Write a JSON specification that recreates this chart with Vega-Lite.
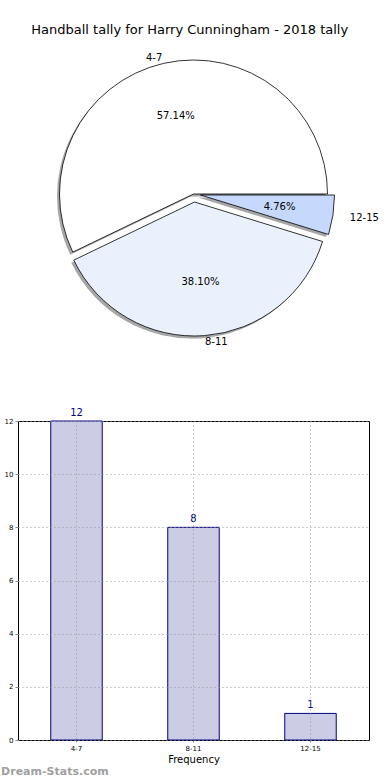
{
  "$schema": "https://vega.github.io/schema/vega-lite/v6.json",
  "padding": {"left": 0, "top": 23, "right": 20, "bottom": 0},
  "bounds": "flush",
  "spacing": 77,
  "config": {"font": "DejaVu Sans", "view": {"stroke": null}},
  "title": {"text": "Handball tally for Harry Cunningham - 2018 tally", "fontSize": 13, "fontWeight": "normal", "color": "black", "anchor": "middle", "offset": 6},
  "datasets": {
    "tally": [
      {"range": "4-7", "count": 12, "share": 0.5714},
      {"range": "8-11", "count": 8, "share": 0.381},
      {"range": "12-15", "count": 1, "share": 0.0476}
    ]
  },
  "vconcat": [
    {
      "width": 351,
      "height": 300,
      "data": {"name": "tally"},
      "encoding": {
        "theta": {"field": "count", "type": "quantitative", "stack": true, "scale": {"range": [1.5708, 7.854]}},
        "order": {"field": "count", "sort": "ascending"}
      },
      "layer": [
        {"mark": {"type": "arc", "radius": 134, "fill": "#4d4d4d", "xOffset": -2.5, "yOffset": 2.5},
         "encoding": {"opacity": {"condition": {"test": "datum.range === '4-7'", "value": 0.5}, "value": 0}}},
        {"mark": {"type": "arc", "radius": 134, "stroke": "black", "strokeWidth": 0.8},
         "encoding": {
           "color": {"field": "range", "type": "nominal", "scale": {"domain": ["4-7", "8-11", "12-15"], "range": ["#ffffff", "#eaf1fd", "#c6d9fd"]}, "legend": null},
           "opacity": {"condition": {"test": "datum.range === '4-7'", "value": 1}, "value": 0}}},
        {"mark": {"type": "arc", "radius": 134, "fill": "#4d4d4d", "xOffset": -1.5, "yOffset": 10.5},
         "encoding": {"opacity": {"condition": {"test": "datum.range === '8-11'", "value": 0.5}, "value": 0}}},
        {"mark": {"type": "arc", "radius": 134, "stroke": "black", "strokeWidth": 0.8, "xOffset": 1, "yOffset": 8},
         "encoding": {
           "color": {"field": "range", "type": "nominal", "legend": null},
           "opacity": {"condition": {"test": "datum.range === '8-11'", "value": 1}, "value": 0}}},
        {"mark": {"type": "arc", "radius": 134, "fill": "#4d4d4d", "xOffset": 4.5, "yOffset": 3.5},
         "encoding": {"opacity": {"condition": {"test": "datum.range === '12-15'", "value": 0.5}, "value": 0}}},
        {"mark": {"type": "arc", "radius": 134, "stroke": "black", "strokeWidth": 0.8, "xOffset": 7, "yOffset": 1},
         "encoding": {
           "color": {"field": "range", "type": "nominal", "legend": null},
           "opacity": {"condition": {"test": "datum.range === '12-15'", "value": 1}, "value": 0}}},
        {"mark": {"type": "text", "radius": 80, "fontSize": 10, "color": "black"},
         "encoding": {"text": {"field": "share", "format": ".2%"},
           "opacity": {"condition": {"test": "datum.range === '4-7'", "value": 1}, "value": 0}}},
        {"mark": {"type": "text", "radius": 80, "fontSize": 10, "color": "black", "xOffset": 1, "yOffset": 8},
         "encoding": {"text": {"field": "share", "format": ".2%"},
           "opacity": {"condition": {"test": "datum.range === '8-11'", "value": 1}, "value": 0}}},
        {"mark": {"type": "text", "radius": 80, "fontSize": 10, "color": "black", "xOffset": 7, "yOffset": 1},
         "encoding": {"text": {"field": "share", "format": ".2%"},
           "opacity": {"condition": {"test": "datum.range === '12-15'", "value": 1}, "value": 0}}},
        {"mark": {"type": "text", "radius": 140, "fontSize": 10, "color": "black", "align": "right"},
         "encoding": {"text": {"field": "range"},
           "opacity": {"condition": {"test": "datum.range === '4-7'", "value": 1}, "value": 0}}},
        {"mark": {"type": "text", "radius": 140, "fontSize": 10, "color": "black", "align": "left", "xOffset": 1, "yOffset": 8},
         "encoding": {"text": {"field": "range"},
           "opacity": {"condition": {"test": "datum.range === '8-11'", "value": 1}, "value": 0}}},
        {"mark": {"type": "text", "radius": 151, "fontSize": 10, "color": "black", "align": "left", "xOffset": 7, "yOffset": 1},
         "encoding": {"text": {"field": "range"},
           "opacity": {"condition": {"test": "datum.range === '12-15'", "value": 1}, "value": 0}}}
      ]
    },
    {
      "width": 351,
      "height": 319,
      "view": {"stroke": "black", "strokeWidth": 1},
      "title": {"text": "Dream-Stats.com", "orient": "bottom", "anchor": "start", "fontSize": 11, "fontWeight": "bold", "color": "#a0a0a0", "dx": -3, "offset": 2},
      "data": {"name": "tally"},
      "encoding": {
        "x": {"field": "range", "type": "nominal", "sort": ["4-7", "8-11", "12-15"],
              "scale": {"paddingInner": 0, "paddingOuter": 0},
              "axis": {"title": "Frequency", "titleFontSize": 10, "titleFontWeight": "normal", "titleColor": "black", "titlePadding": 3,
                       "labelAngle": 0, "labelFontSize": 7, "labelColor": "black", "labelPadding": 2,
                       "ticks": true, "tickSize": 2, "tickColor": "#888", "domain": false,
                       "grid": true, "gridDash": [1, 3], "gridColor": "#999", "gridWidth": 1, "zindex": 1}},
        "y": {"field": "count", "type": "quantitative",
              "scale": {"domain": [0, 12]},
              "axis": {"title": null, "values": [0, 2, 4, 6, 8, 10, 12], "labelFontSize": 7, "labelColor": "black", "labelPadding": 2,
                       "tickSize": 3, "tickColor": "#888", "domain": false,
                       "grid": true, "gridDash": [1, 3], "gridColor": "#999", "gridWidth": 1, "zindex": 1}}
      },
      "layer": [
        {"mark": {"type": "bar", "fill": "#ccccE5", "stroke": "#000080", "strokeWidth": 1, "width": {"band": 0.44}}},
        {"mark": {"type": "text", "baseline": "bottom", "dy": -3, "fontSize": 10, "color": "#000080"},
         "encoding": {"text": {"field": "count"}}}
      ]
    }
  ]
}
